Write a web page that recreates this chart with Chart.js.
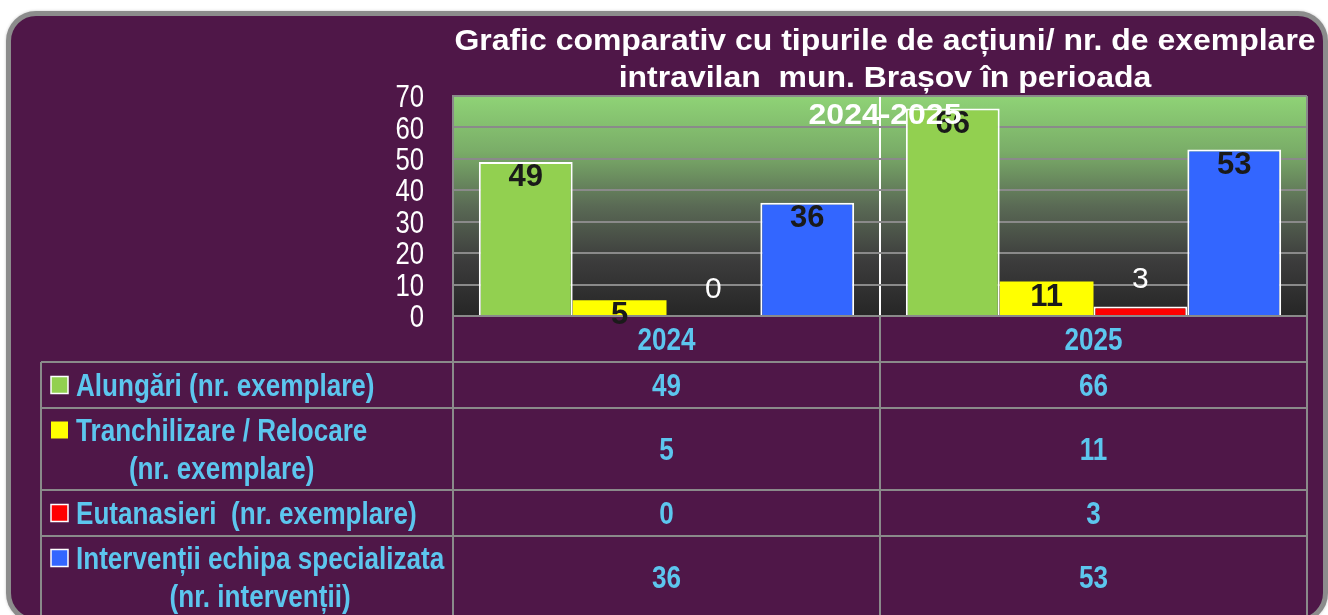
<!DOCTYPE html>
<html lang="ro">
<head>
  <meta charset="UTF-8">
  <title>Grafic comparativ Brașov 2024-2025</title>
  <style>
    body { margin: 0; background: #fff; width: 1328px; height: 615px; overflow: hidden; position: relative; font-family: "Liberation Sans", Arial, sans-serif; }
    .frame { position: absolute; left: 6px; top: 11px; width: 1322px; height: 612px; box-sizing: border-box; border: 5px solid #8c8c8c; border-radius: 30px; background: #4f1748; box-shadow: 0 0 3px #c8c8c8; }
    #chart { position: absolute; left: 0; top: 0; }
  </style>
</head>
<body>
  <div class="frame"></div>
  <canvas id="chart" width="1328" height="615"></canvas>

  <script src="https://cdn.jsdelivr.net/npm/chart.js"></script>
  <script>
    const years = ['2024', '2025'];
    const alungari = [49, 66];
    const tranchilizare = [5, 11];
    const eutanasieri = [0, 3];
    const interventii = [36, 53];
    const yMax = 70;
    const yStep = 10;
    const titleLines = [
      'Grafic comparativ cu tipurile de acțiuni/ nr. de exemplare',
      'intravilan  mun. Brașov în perioada',
      '2024-2025'
    ];
    const legendLines = [
      ['Alungări (nr. exemplare)'],
      ['Tranchilizare / Relocare', '(nr. exemplare)'],
      ['Eutanasieri  (nr. exemplare)'],
      ['Intervenții echipa specializata', '(nr. intervenții)']
    ];

    const FONT = '"Liberation Sans", Arial, sans-serif';
    const GRID = '#8a8a8a';
    const BLUE_TXT = '#5cc6ee';

    // text with horizontal squeeze/stretch, y = visual centre of digits/caps
    function txt(ctx, s, x, y, size, weight, color, sx, align) {
      ctx.save();
      ctx.font = weight + ' ' + size + 'px ' + FONT;
      ctx.fillStyle = color;
      ctx.textBaseline = 'alphabetic';
      ctx.textAlign = align || 'center';
      ctx.translate(x, y + size * 0.358);
      ctx.scale(sx, 1);
      ctx.fillText(s, 0, 0);
      ctx.restore();
    }
    function txtW(ctx, s, size, weight, sx) {
      ctx.save();
      ctx.font = weight + ' ' + size + 'px ' + FONT;
      const w = ctx.measureText(s).width * sx;
      ctx.restore();
      return w;
    }

    const bgPlugin = {
      id: 'plotBg',
      beforeDraw(chart) {
        const { ctx, chartArea: a } = chart;
        const g = ctx.createLinearGradient(0, a.top, 0, a.bottom);
        g.addColorStop(0, '#8fd376');
        g.addColorStop(0.25, '#7aad68');
        g.addColorStop(0.5, '#5a6a55');
        g.addColorStop(0.75, '#3c3c3c');
        g.addColorStop(1, '#262626');
        ctx.save();
        ctx.fillStyle = g;
        ctx.fillRect(a.left, a.top, a.right - a.left, a.bottom - a.top);
        ctx.restore();
      }
    };

    const extrasPlugin = {
      id: 'extras',
      afterDraw(chart) {
        const { ctx, chartArea: a } = chart;
        const xs = chart.scales.x, ys = chart.scales.y;

        // y tick labels
        ys.ticks.forEach(t => {
          txt(ctx, String(t.value), a.left - 29, ys.getPixelForValue(t.value), 31, 'normal', '#ffffff', 0.83, 'right');
        });

        // bar value labels
        chart.data.datasets.forEach((ds, di) => {
          chart.getDatasetMeta(di).data.forEach((bar, i) => {
            const v = ds.data[i];
            if (di === 2) {
              txt(ctx, String(v), bar.x, bar.y - 29, 30, 'normal', '#ffffff', 1, 'center');
            } else {
              txt(ctx, String(v), bar.x, bar.y + 13, 31, 'bold', '#1a1a1a', 1, 'center');
            }
          });
        });

        // data table
        const tLeft = 41;
        const colEdges = [a.left, (xs.getPixelForValue(0) + xs.getPixelForValue(1)) / 2, a.right];
        const rowH = [46, 46, 82, 46, 82];
        const rowEdges = [a.bottom];
        rowH.forEach(h => rowEdges.push(rowEdges[rowEdges.length - 1] + h));

        ctx.save();
        ctx.strokeStyle = GRID;
        ctx.lineWidth = 2;
        ctx.beginPath();
        colEdges.forEach(x => { ctx.moveTo(x, a.bottom); ctx.lineTo(x, 640); });
        ctx.moveTo(tLeft, rowEdges[1]); ctx.lineTo(tLeft, 640);
        for (let r = 1; r < rowEdges.length; r++) {
          ctx.moveTo(tLeft, rowEdges[r]); ctx.lineTo(a.right, rowEdges[r]);
        }
        ctx.stroke();
        ctx.restore();

        // header: years
        years.forEach((y, c) => {
          txt(ctx, y, (colEdges[c] + colEdges[c + 1]) / 2, (rowEdges[0] + rowEdges[1]) / 2, 32, 'bold', BLUE_TXT, 0.815, 'center');
        });

        // series rows
        chart.data.datasets.forEach((ds, di) => {
          const top = rowEdges[di + 1], bot = rowEdges[di + 2];
          const cy = (top + bot) / 2;
          const lines = legendLines[di];
          const lh = 38;
          const firstY = cy - (lines.length - 1) * lh / 2;
          // swatch
          ctx.save();
          ctx.fillStyle = ds.backgroundColor;
          ctx.fillRect(51, firstY - 8.5, 17, 17);
          if (ds.borderWidth > 0) {
            ctx.strokeStyle = '#ffffff';
            ctx.lineWidth = 1.5;
            ctx.strokeRect(51, firstY - 8.5, 17, 17);
          }
          ctx.restore();
          const maxW = Math.max(...lines.map(l => txtW(ctx, l, 32, 'bold', 0.815)));
          lines.forEach((l, li) => {
            txt(ctx, l, 76 + maxW / 2, firstY + li * lh, 32, 'bold', BLUE_TXT, 0.815, 'center');
          });
          ds.data.forEach((v, c) => {
            txt(ctx, String(v), (colEdges[c] + colEdges[c + 1]) / 2, cy, 32, 'bold', BLUE_TXT, 0.815, 'center');
          });
        });

        // title on top
        titleLines.forEach((l, i) => {
          txt(ctx, l, 885, 39 + i * 37, 30, 'bold', '#ffffff', 1.065, 'center');
        });
      }
    };

    new Chart(document.getElementById('chart'), {
      type: 'bar',
      data: {
        labels: years,
        datasets: [
          { label: legendLines[0].join(' '), data: alungari, backgroundColor: '#92d050', borderColor: '#ffffff', borderWidth: 2 },
          { label: legendLines[1].join(' '), data: tranchilizare, backgroundColor: '#ffff00', borderColor: '#ffffff', borderWidth: 0 },
          { label: legendLines[2].join(' '), data: eutanasieri, backgroundColor: '#ff0000', borderColor: '#ffffff', borderWidth: 2 },
          { label: legendLines[3].join(' '), data: interventii, backgroundColor: '#3366ff', borderColor: '#ffffff', borderWidth: 2 }
        ]
      },
      options: {
        responsive: false,
        animation: false,
        layout: { padding: { left: 453, right: 21, top: 96, bottom: 299 } },
        datasets: { bar: { categoryPercentage: 0.879, barPercentage: 1 } },
        plugins: { legend: { display: false }, tooltip: { enabled: false }, title: { display: false } },
        scales: {
          x: {
            z: 1,
            ticks: { display: false },
            grid: {
              drawTicks: false,
              lineWidth: 2,
              color: c => c.index === 1 ? '#ffffff' : GRID
            },
            border: { color: GRID, width: 2 },
            afterFit: s => { s.height = 0; }
          },
          y: {
            min: 0,
            max: yMax,
            ticks: { display: false, stepSize: yStep },
            grid: { drawTicks: false, color: GRID, lineWidth: 2 },
            border: { color: GRID, width: 2 },
            afterFit: s => { s.width = 0; }
          }
        }
      },
      plugins: [bgPlugin, extrasPlugin]
    });
  </script>
</body>
</html>
